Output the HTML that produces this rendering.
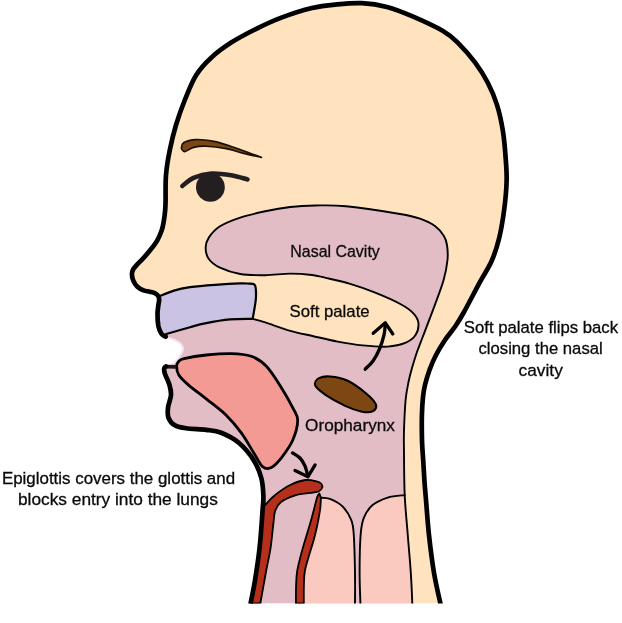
<!DOCTYPE html>
<html><head><meta charset="utf-8"><title>Swallowing diagram</title>
<style>html,body{margin:0;padding:0;background:#fff}svg{display:block}</style></head>
<body><svg width="622" height="623" viewBox="0 0 622 623">
<defs>
<clipPath id="c"><rect x="0" y="0" width="622" height="603.5"/></clipPath>
<filter id="b" x="-50%" y="-50%" width="200%" height="200%"><feGaussianBlur stdDeviation="0.7"/></filter>
</defs>
<rect width="622" height="623" fill="#fff"/>
<g clip-path="url(#c)" stroke-linecap="round" stroke-linejoin="round">
<path d="M250.6 603.5C251.3 599.6 253.5 589.7 255.0 580.4C256.5 571.1 258.3 559.5 259.6 547.8C260.9 536.1 262.0 518.6 262.6 510.0C263.2 501.4 263.6 501.3 263.4 496.0C263.2 490.7 262.9 483.9 261.3 478.0C259.7 472.1 257.6 466.3 253.8 460.4C250.1 454.5 244.2 447.4 238.8 442.8C233.4 438.2 226.6 435.0 221.2 432.8C215.8 430.6 212.0 430.6 206.2 429.8C200.3 429.1 191.3 429.1 186.1 428.3C180.9 427.6 177.7 427.1 174.8 425.3C171.9 423.6 169.6 420.7 168.5 417.8C167.4 414.9 167.6 411.5 168.0 407.7C168.4 403.9 170.8 398.8 171.0 395.0C171.2 391.2 170.5 388.5 169.5 385.0C168.5 381.5 165.9 376.8 165.0 374.0C164.1 371.2 164.0 369.8 164.2 368.5C164.4 367.2 165.7 366.8 166.0 366.4L166.0 366.4C167.2 365.9 171.1 365.2 173.4 363.5C175.7 361.8 178.2 358.9 179.8 356.3C181.4 353.8 183.3 350.6 183.0 348.2C182.7 345.8 181.1 343.7 178.2 341.8C175.3 339.9 167.8 337.6 165.7 336.7L165.7 336.7C165.0 336.2 162.6 335.6 161.4 333.8C160.2 332.0 159.0 329.0 158.3 325.7C157.7 322.4 157.5 317.4 157.5 314.0C157.5 310.6 158.1 307.3 158.4 305.0C158.7 302.7 159.1 300.8 159.2 300.0L159.2 300.0C159.1 299.4 159.1 297.4 158.4 296.3C157.7 295.2 156.4 294.1 155.0 293.3C153.6 292.5 151.7 292.2 149.8 291.7C147.9 291.2 145.7 291.2 143.6 290.4C141.5 289.6 139.1 288.4 137.4 286.8C135.7 285.2 134.2 282.7 133.3 280.6C132.4 278.5 131.9 275.9 131.9 274.0C131.9 272.1 132.5 270.8 133.2 269.4C133.9 268.0 134.5 267.5 136.2 265.6C137.9 263.7 141.1 260.6 143.6 257.9C146.1 255.2 148.6 252.2 150.9 249.3C153.2 246.4 155.5 243.5 157.3 240.3C159.1 237.1 160.7 233.2 161.8 230.0C162.9 226.8 163.2 224.3 163.8 221.0C164.4 217.7 164.9 213.4 165.2 210.0C165.5 206.6 165.5 206.1 165.6 200.3C165.7 194.5 165.3 183.4 166.0 175.0C166.7 166.6 168.1 158.3 169.8 150.0C171.5 141.7 173.5 133.3 176.0 125.0C178.5 116.7 181.5 108.3 184.8 100.0C188.2 91.7 191.7 82.2 196.1 75.2C200.5 68.2 205.3 63.1 211.2 57.7C217.0 52.3 223.7 47.4 231.2 42.6C238.7 37.8 247.9 33.0 256.3 28.8C264.7 24.6 272.1 21.1 281.4 17.6C290.7 14.1 302.7 10.2 312.0 8.0C321.3 5.8 328.7 5.2 337.0 4.4C345.3 3.6 353.7 2.8 362.0 3.2C370.3 3.6 378.7 4.8 387.0 7.0C395.3 9.2 402.7 12.2 412.0 16.2C421.3 20.2 435.0 26.4 442.6 30.8C450.2 35.2 452.3 37.3 457.7 42.6C463.1 47.9 470.2 56.0 475.2 62.7C480.2 69.4 484.2 75.8 487.8 82.8C491.4 89.8 494.4 96.7 496.9 104.6C499.4 112.5 501.4 121.8 502.8 130.4C504.2 139.0 504.9 147.6 505.5 156.0C506.1 164.4 506.9 171.8 506.6 181.0C506.4 190.2 505.3 201.4 504.0 211.0C502.7 220.6 501.1 230.4 499.0 238.8C496.9 247.2 494.6 254.2 491.5 261.3C488.4 268.4 484.9 272.9 480.3 281.4C475.7 289.8 468.1 304.6 464.0 312.0C459.9 319.4 458.7 321.3 455.5 326.0C452.3 330.7 448.2 335.2 445.0 340.0C441.8 344.8 438.6 350.0 436.0 355.0C433.4 360.0 431.3 365.0 429.5 370.0C427.7 375.0 426.1 380.5 425.0 385.0C423.9 389.5 423.5 392.0 423.0 397.0C422.5 402.0 422.1 407.8 421.9 415.0C421.7 422.2 421.8 432.2 422.0 440.0C422.2 447.8 422.9 455.0 423.3 462.0C423.7 469.0 424.1 476.1 424.5 482.0C424.9 487.9 425.1 488.7 425.8 497.6C426.6 506.5 427.6 522.7 429.0 535.2C430.4 547.8 432.1 561.5 434.0 572.9C435.9 584.3 439.3 598.4 440.4 603.5Z" fill="#ffe3bf"/>
<path d="M412.3 603.5C412.1 598.4 411.6 584.3 410.8 572.9C410.1 561.5 408.8 548.2 407.8 535.2C406.8 522.2 405.3 508.8 404.7 495.1C404.1 481.4 404.1 463.9 404.0 453.0C403.9 442.1 403.7 438.8 404.0 430.0C404.3 421.2 404.9 408.0 405.6 400.0C406.4 392.0 407.4 387.3 408.5 382.0C409.6 376.7 410.6 372.9 412.0 368.0C413.4 363.1 415.1 357.6 416.8 352.5C418.6 347.4 419.5 345.3 422.5 337.5C425.5 329.7 431.1 315.3 434.6 305.7C438.1 296.1 441.5 287.6 443.6 280.0C445.8 272.4 446.9 265.8 447.5 260.0C448.1 254.2 447.6 249.0 447.0 245.0C446.4 241.0 445.9 239.2 443.9 236.0C441.9 232.8 439.0 228.9 435.0 226.0C431.0 223.1 425.8 220.7 420.0 218.7C414.2 216.7 412.3 216.1 400.0 214.0C387.7 211.9 360.1 207.7 346.0 206.3C331.9 204.9 324.7 205.4 315.4 205.5C306.1 205.6 298.7 206.0 290.3 207.0C281.9 208.0 273.6 209.5 265.2 211.3C256.8 213.1 247.7 215.1 240.2 217.6C232.7 220.1 225.2 223.0 220.0 226.3C214.8 229.6 211.2 234.0 208.8 237.6C206.4 241.2 205.6 244.1 205.6 247.7C205.6 251.3 206.4 255.7 208.8 259.0C211.2 262.3 214.8 265.2 220.0 267.7C225.2 270.2 232.7 272.8 240.2 274.0C247.7 275.2 256.8 275.3 265.2 275.2C273.6 275.1 282.5 273.6 290.3 273.6C298.1 273.6 306.2 274.3 312.0 275.0C317.8 275.7 318.6 276.2 325.0 277.7C331.4 279.2 341.8 281.4 350.2 283.9C358.6 286.4 366.8 289.3 375.2 292.7C383.6 296.1 394.0 300.6 400.3 304.0C406.6 307.4 409.9 309.7 412.9 312.8C415.9 315.9 418.0 319.1 418.4 322.8C418.8 326.6 417.6 332.0 415.4 335.3C413.2 338.6 409.9 341.0 405.3 342.9C400.7 344.8 394.9 346.2 387.8 346.6C380.7 347.0 371.1 346.2 362.7 345.4C354.3 344.6 346.0 343.2 337.6 341.6C329.2 340.0 320.4 337.8 312.5 336.0C304.6 334.2 298.2 333.1 290.3 330.8C282.4 328.5 271.5 324.4 265.2 322.4C258.9 320.4 254.8 319.4 252.7 318.8L252.7 318.8C248.9 318.9 237.9 318.6 230.0 319.4C222.1 320.1 211.7 322.0 205.0 323.3C198.3 324.6 196.5 325.4 190.0 327.2C183.5 329.0 170.2 332.9 166.2 334.0L165.7 336.7C167.8 337.6 175.3 339.9 178.2 341.8C181.1 343.7 182.7 345.8 183.0 348.2C183.3 350.6 181.4 353.8 179.8 356.3C178.2 358.9 175.7 361.8 173.4 363.5C171.1 365.2 167.2 365.9 166.0 366.4L166.0 366.4C165.7 366.8 164.4 367.2 164.2 368.5C164.0 369.8 164.1 371.2 165.0 374.0C165.9 376.8 168.5 381.5 169.5 385.0C170.5 388.5 171.2 391.2 171.0 395.0C170.8 398.8 168.4 403.9 168.0 407.7C167.6 411.5 167.4 414.9 168.5 417.8C169.6 420.7 171.9 423.6 174.8 425.3C177.7 427.1 180.9 427.6 186.1 428.3C191.3 429.1 200.3 429.1 206.2 429.8C212.0 430.6 215.8 430.6 221.2 432.8C226.6 435.0 233.4 438.2 238.8 442.8C244.2 447.4 250.1 454.5 253.8 460.4C257.6 466.3 259.7 472.1 261.3 478.0C262.9 483.9 263.2 490.7 263.4 496.0C263.6 501.3 263.2 501.4 262.6 510.0C262.0 518.6 260.9 536.1 259.6 547.8C258.3 559.5 256.5 571.1 255.0 580.4C253.5 589.7 251.3 599.6 250.6 603.5Z" fill="#e3bdc6"/>
<path d="M165.7 336.7C167.8 337.6 175.3 339.9 178.2 341.8C181.1 343.7 182.7 345.8 183.0 348.2C183.3 350.6 181.4 353.8 179.8 356.3C178.2 358.9 175.7 361.8 173.4 363.5C171.1 365.2 167.2 365.9 166.0 366.4" fill="none" stroke="#f1e4f2" stroke-width="2" filter="url(#b)"/>
<path d="M158.0 296.8C160.7 295.8 168.7 292.2 174.0 290.6C179.3 289.0 183.2 288.2 190.0 287.2C196.8 286.2 206.6 285.4 215.0 284.8C223.4 284.2 234.5 283.6 240.2 283.4C245.9 283.2 247.5 283.6 249.0 283.6L249.0 283.6C249.9 283.8 253.3 283.5 254.5 284.6C255.7 285.7 255.7 287.4 255.9 290.0C256.1 292.6 256.2 295.5 255.7 300.3C255.2 305.1 253.2 315.7 252.7 318.8L252.7 318.8C248.9 318.9 237.9 318.6 230.0 319.4C222.1 320.1 211.7 322.0 205.0 323.3C198.3 324.6 196.5 325.4 190.0 327.2C183.5 329.0 170.2 332.9 166.2 334.0L161.4 333.8C160.9 332.4 159.0 329.0 158.3 325.7C157.7 322.4 157.5 317.4 157.5 314.0C157.5 310.6 158.1 307.3 158.4 305.0C158.7 302.7 159.1 300.8 159.2 300.0Z" fill="#cbc3e3"/>
<path d="M320.3 497.6C321.9 497.8 326.3 497.4 330.0 498.9C333.7 500.4 338.9 502.8 342.5 506.4C346.1 509.9 349.4 515.4 351.3 520.2C353.2 525.0 353.2 526.4 353.8 535.2C354.4 544.0 354.8 561.5 355.0 572.9C355.2 584.3 355.0 598.4 355.0 603.5L300.0 603.5L318.0 500.0Z" fill="#fac9c0"/>
<path d="M404.7 495.1C401.9 495.5 393.0 495.9 387.7 497.6C382.4 499.3 376.6 501.8 372.6 505.1C368.6 508.5 365.9 512.7 363.9 517.7C361.9 522.7 361.3 526.0 360.6 535.2C359.9 544.4 359.6 561.5 359.6 572.9C359.6 584.3 360.3 598.4 360.4 603.5L412.3 603.5L412.3 603.5C412.1 598.4 411.6 584.3 410.8 572.9C410.1 561.5 408.8 548.2 407.8 535.2C406.8 522.2 405.2 501.8 404.7 495.1Z" fill="#fac9c0"/>
<path d="M320.3 497.6C321.9 497.8 326.3 497.4 330.0 498.9C333.7 500.4 338.9 502.8 342.5 506.4C346.1 509.9 349.4 515.4 351.3 520.2C353.2 525.0 353.2 526.4 353.8 535.2C354.4 544.0 354.8 561.5 355.0 572.9C355.2 584.3 355.0 598.4 355.0 603.5" fill="none" stroke="#000" stroke-width="1.9"/>
<path d="M404.7 495.1C401.9 495.5 393.0 495.9 387.7 497.6C382.4 499.3 376.6 501.8 372.6 505.1C368.6 508.5 365.9 512.7 363.9 517.7C361.9 522.7 361.3 526.0 360.6 535.2C359.9 544.4 359.6 561.5 359.6 572.9C359.6 584.3 360.3 598.4 360.4 603.5" fill="none" stroke="#000" stroke-width="1.9"/>
<path d="M412.3 603.5C412.1 598.4 411.6 584.3 410.8 572.9C410.1 561.5 408.8 548.2 407.8 535.2C406.8 522.2 405.3 508.8 404.7 495.1C404.1 481.4 404.1 463.9 404.0 453.0C403.9 442.1 403.7 438.8 404.0 430.0C404.3 421.2 404.9 408.0 405.6 400.0C406.4 392.0 407.4 387.3 408.5 382.0C409.6 376.7 410.6 372.9 412.0 368.0C413.4 363.1 415.1 357.6 416.8 352.5C418.6 347.4 419.5 345.3 422.5 337.5C425.5 329.7 431.1 315.3 434.6 305.7C438.1 296.1 441.5 287.6 443.6 280.0C445.8 272.4 446.9 265.8 447.5 260.0C448.1 254.2 447.6 249.0 447.0 245.0C446.4 241.0 445.9 239.2 443.9 236.0C441.9 232.8 439.0 228.9 435.0 226.0C431.0 223.1 425.8 220.7 420.0 218.7C414.2 216.7 412.3 216.1 400.0 214.0C387.7 211.9 360.1 207.7 346.0 206.3C331.9 204.9 324.7 205.4 315.4 205.5C306.1 205.6 298.7 206.0 290.3 207.0C281.9 208.0 273.6 209.5 265.2 211.3C256.8 213.1 247.7 215.1 240.2 217.6C232.7 220.1 225.2 223.0 220.0 226.3C214.8 229.6 211.2 234.0 208.8 237.6C206.4 241.2 205.6 244.1 205.6 247.7C205.6 251.3 206.4 255.7 208.8 259.0C211.2 262.3 214.8 265.2 220.0 267.7C225.2 270.2 232.7 272.8 240.2 274.0C247.7 275.2 256.8 275.3 265.2 275.2C273.6 275.1 282.5 273.6 290.3 273.6C298.1 273.6 306.2 274.3 312.0 275.0C317.8 275.7 318.6 276.2 325.0 277.7C331.4 279.2 341.8 281.4 350.2 283.9C358.6 286.4 366.8 289.3 375.2 292.7C383.6 296.1 394.0 300.6 400.3 304.0C406.6 307.4 409.9 309.7 412.9 312.8C415.9 315.9 418.0 319.1 418.4 322.8C418.8 326.6 417.6 332.0 415.4 335.3C413.2 338.6 409.9 341.0 405.3 342.9C400.7 344.8 394.9 346.2 387.8 346.6C380.7 347.0 371.1 346.2 362.7 345.4C354.3 344.6 346.0 343.2 337.6 341.6C329.2 340.0 320.4 337.8 312.5 336.0C304.6 334.2 298.2 333.1 290.3 330.8C282.4 328.5 271.5 324.4 265.2 322.4C258.9 320.4 254.8 319.4 252.7 318.8" fill="none" stroke="#000" stroke-width="1.9"/>
<path d="M158.0 296.8C160.7 295.8 168.7 292.2 174.0 290.6C179.3 289.0 183.2 288.2 190.0 287.2C196.8 286.2 206.6 285.4 215.0 284.8C223.4 284.2 234.5 283.6 240.2 283.4C245.9 283.2 247.5 283.6 249.0 283.6L249.0 283.6C249.9 283.8 253.3 283.5 254.5 284.6C255.7 285.7 255.7 287.4 255.9 290.0C256.1 292.6 256.2 295.5 255.7 300.3C255.2 305.1 253.2 315.7 252.7 318.8L252.7 318.8C248.9 318.9 237.9 318.6 230.0 319.4C222.1 320.1 211.7 322.0 205.0 323.3C198.3 324.6 196.5 325.4 190.0 327.2C183.5 329.0 170.2 332.9 166.2 334.0" fill="none" stroke="#000" stroke-width="2.2"/>
<path d="M260.3 603.5C261.2 598.6 263.9 583.3 265.6 574.0C267.3 564.7 269.3 556.3 270.6 547.8C271.9 539.2 272.7 528.8 273.5 522.7C274.3 516.6 273.9 514.5 275.2 511.0C276.4 507.6 277.7 504.6 281.0 502.0C284.3 499.4 289.9 496.9 295.2 495.3C300.5 493.7 308.9 493.2 312.8 492.6C316.7 492.0 316.9 492.3 318.5 491.5C320.1 490.7 321.9 488.9 322.3 487.6C322.7 486.3 322.0 484.6 321.0 483.5C320.0 482.4 319.1 481.9 316.5 481.3C313.9 480.7 309.6 479.4 305.2 480.0C300.8 480.6 295.2 482.5 290.2 485.0C285.2 487.5 279.3 491.7 275.1 495.0C270.9 498.3 266.8 503.3 265.1 505.0L263.4 498.0C263.3 500.0 263.2 501.7 262.6 510.0C262.0 518.3 260.9 536.1 259.6 547.8C258.3 559.5 256.5 571.1 255.0 580.4C253.5 589.7 251.3 599.6 250.6 603.5Z" fill="#b52f1b" stroke="#000" stroke-width="1.8"/>
<path d="M319.4 493.5C319.0 494.1 318.1 494.2 317.2 497.0C316.3 499.8 315.1 505.3 313.8 510.0C312.6 514.7 311.1 520.3 309.7 525.0C308.3 529.7 307.2 533.2 305.7 538.2C304.2 543.2 302.3 549.5 300.9 555.0C299.5 560.5 298.0 565.9 297.2 570.9C296.4 575.9 296.3 579.6 296.1 585.0C295.9 590.4 295.9 600.4 295.9 603.5L303.8 603.5C303.8 600.4 303.7 590.4 303.9 585.0C304.1 579.6 304.0 575.9 304.9 570.9C305.8 565.9 307.6 560.5 309.2 555.0C310.8 549.5 312.8 543.6 314.2 538.2C315.6 532.8 316.8 527.7 317.8 522.7C318.8 517.7 319.8 512.1 320.3 508.0C320.8 503.9 320.8 499.7 320.9 498.0Z" fill="#b52f1b" stroke="#000" stroke-width="1.8"/>
<path d="M176.6 366.0C176.6 363.8 177.4 362.7 178.6 361.5C179.8 360.3 179.4 359.7 184.0 358.6C188.6 357.5 198.3 355.8 206.2 355.0C214.1 354.2 223.7 353.4 231.2 353.6C238.7 353.8 245.4 354.2 251.3 356.3C257.2 358.4 261.4 361.1 266.4 366.3C271.4 371.5 277.0 380.8 281.4 387.7C285.8 394.6 290.0 402.3 292.7 407.7C295.4 413.1 297.7 414.9 297.7 420.3C297.7 425.7 295.4 434.0 292.7 440.3C290.0 446.6 284.9 453.3 281.4 457.9C277.8 462.4 274.5 466.1 271.4 467.6C268.3 469.1 265.5 469.1 262.6 466.7C259.7 464.2 257.4 458.5 253.8 452.9C250.2 447.2 245.9 439.1 241.3 432.8C236.7 426.5 232.0 420.9 226.2 415.2C220.3 409.5 212.5 403.9 206.2 398.9C199.9 393.9 193.2 389.1 188.6 385.1C184.0 381.1 180.8 378.2 178.8 375.0C176.8 371.8 176.6 368.2 176.6 366.0Z" fill="#f49a95" stroke="#000" stroke-width="2.8"/>
<path d="M315.1 384.5C314.1 381.8 316.5 378.9 319.0 377.5C321.5 376.1 325.4 375.4 330.2 375.8C335.0 376.2 341.8 377.3 347.7 380.0C353.6 382.7 360.6 388.1 365.3 392.0C370.0 395.9 374.5 400.4 375.8 403.5C377.1 406.6 375.3 409.2 373.0 410.5C370.7 411.8 366.6 411.9 362.0 411.0C357.4 410.1 351.3 408.1 345.2 405.2C339.1 402.3 330.1 397.3 325.1 393.9C320.1 390.4 316.1 387.2 315.1 384.5Z" fill="#7d4714" stroke="#000" stroke-width="2.1" transform="translate(0,0.7)"/>
<path d="M176 366.8L166 366.6" fill="none" stroke="#1a1516" stroke-width="3.8" stroke-linecap="butt"/>
<path d="M250.6 603.5C251.3 599.6 253.5 589.7 255.0 580.4C256.5 571.1 258.3 559.5 259.6 547.8C260.9 536.1 262.0 518.6 262.6 510.0C263.2 501.4 263.6 501.3 263.4 496.0C263.2 490.7 262.9 483.9 261.3 478.0C259.7 472.1 257.6 466.3 253.8 460.4C250.1 454.5 244.2 447.4 238.8 442.8C233.4 438.2 226.6 435.0 221.2 432.8C215.8 430.6 212.0 430.6 206.2 429.8C200.3 429.1 191.3 429.1 186.1 428.3C180.9 427.6 177.7 427.1 174.8 425.3C171.9 423.6 169.6 420.7 168.5 417.8C167.4 414.9 167.6 411.5 168.0 407.7C168.4 403.9 170.8 398.8 171.0 395.0C171.2 391.2 170.5 388.5 169.5 385.0C168.5 381.5 165.9 376.8 165.0 374.0C164.1 371.2 164.0 369.8 164.2 368.5C164.4 367.2 165.7 366.8 166.0 366.4" fill="none" stroke="#000" stroke-width="4.7"/>
<path d="M165.7 336.7C165.0 336.2 162.6 335.6 161.4 333.8C160.2 332.0 159.0 329.0 158.3 325.7C157.7 322.4 157.5 317.4 157.5 314.0C157.5 310.6 158.1 307.3 158.4 305.0C158.7 302.7 159.1 300.8 159.2 300.0L159.2 300.0C159.1 299.4 159.1 297.4 158.4 296.3C157.7 295.2 156.4 294.1 155.0 293.3C153.6 292.5 151.7 292.2 149.8 291.7C147.9 291.2 145.7 291.2 143.6 290.4C141.5 289.6 139.1 288.4 137.4 286.8C135.7 285.2 134.2 282.7 133.3 280.6C132.4 278.5 131.9 275.9 131.9 274.0C131.9 272.1 132.5 270.8 133.2 269.4C133.9 268.0 134.5 267.5 136.2 265.6C137.9 263.7 141.1 260.6 143.6 257.9C146.1 255.2 148.6 252.2 150.9 249.3C153.2 246.4 155.5 243.5 157.3 240.3C159.1 237.1 160.7 233.2 161.8 230.0C162.9 226.8 163.2 224.3 163.8 221.0C164.4 217.7 164.9 213.4 165.2 210.0C165.5 206.6 165.5 206.1 165.6 200.3C165.7 194.5 165.3 183.4 166.0 175.0C166.7 166.6 168.1 158.3 169.8 150.0C171.5 141.7 173.5 133.3 176.0 125.0C178.5 116.7 181.5 108.3 184.8 100.0C188.2 91.7 191.7 82.2 196.1 75.2C200.5 68.2 205.3 63.1 211.2 57.7C217.0 52.3 223.7 47.4 231.2 42.6C238.7 37.8 247.9 33.0 256.3 28.8C264.7 24.6 272.1 21.1 281.4 17.6C290.7 14.1 302.7 10.2 312.0 8.0C321.3 5.8 328.7 5.2 337.0 4.4C345.3 3.6 353.7 2.8 362.0 3.2C370.3 3.6 378.7 4.8 387.0 7.0C395.3 9.2 402.7 12.2 412.0 16.2C421.3 20.2 435.0 26.4 442.6 30.8C450.2 35.2 452.3 37.3 457.7 42.6C463.1 47.9 470.2 56.0 475.2 62.7C480.2 69.4 484.2 75.8 487.8 82.8C491.4 89.8 494.4 96.7 496.9 104.6C499.4 112.5 501.4 121.8 502.8 130.4C504.2 139.0 504.9 147.6 505.5 156.0C506.1 164.4 506.9 171.8 506.6 181.0C506.4 190.2 505.3 201.4 504.0 211.0C502.7 220.6 501.1 230.4 499.0 238.8C496.9 247.2 494.6 254.2 491.5 261.3C488.4 268.4 484.9 272.9 480.3 281.4C475.7 289.8 468.1 304.6 464.0 312.0C459.9 319.4 458.7 321.3 455.5 326.0C452.3 330.7 448.2 335.2 445.0 340.0C441.8 344.8 438.6 350.0 436.0 355.0C433.4 360.0 431.3 365.0 429.5 370.0C427.7 375.0 426.1 380.5 425.0 385.0C423.9 389.5 423.5 392.0 423.0 397.0C422.5 402.0 422.1 407.8 421.9 415.0C421.7 422.2 421.8 432.2 422.0 440.0C422.2 447.8 422.9 455.0 423.3 462.0C423.7 469.0 424.1 476.1 424.5 482.0C424.9 487.9 425.1 488.7 425.8 497.6C426.6 506.5 427.6 522.7 429.0 535.2C430.4 547.8 432.1 561.5 434.0 572.9C435.9 584.3 439.3 598.4 440.4 603.5" fill="none" stroke="#000" stroke-width="4.7"/>
<path d="M181.3 148.5C181.7 147.6 181.2 144.3 183.6 142.8C186.0 141.3 191.0 139.8 196.0 139.6C201.0 139.4 207.8 140.3 213.7 141.4C219.6 142.5 225.3 144.5 231.2 146.4C237.0 148.3 243.8 150.9 248.8 152.7C253.9 154.5 259.4 156.6 261.5 157.4L261.5 157.4C258.6 156.7 249.7 154.9 243.8 153.4C237.9 151.9 232.5 149.8 226.2 148.6C219.9 147.4 211.6 146.4 206.2 146.2C200.8 146.0 197.2 146.5 193.6 147.4C190.0 148.3 186.9 151.4 184.8 151.6C182.8 151.8 181.9 149.0 181.3 148.5Z" fill="#7d4714" stroke="#1a0f05" stroke-width="1.6"/>
<circle cx="210.4" cy="187.3" r="14.4" fill="#231f20"/>
<path d="M182.3 186.0C184.2 184.6 188.8 179.9 193.6 177.8C198.4 175.7 204.9 173.9 211.2 173.5C217.5 173.1 225.1 174.2 231.2 175.2C237.2 176.2 244.8 178.8 247.5 179.5" fill="none" stroke="#231f20" stroke-width="4.6"/>
<path d="M365.2 369.2C366.5 367.8 370.6 364.4 373.0 361.0C375.4 357.6 377.7 353.3 379.5 349.0C381.3 344.7 383.0 339.2 384.0 335.0C385.0 330.8 385.1 325.8 385.3 324.0" fill="none" stroke="#000" stroke-width="3.3"/>
<path d="M373.2 333.3L385.3 322.8L392.8 334" fill="none" stroke="#000" stroke-width="3.3"/>
<path d="M292.5 452.9C293.8 453.8 297.9 455.8 300.0 458.0C302.1 460.2 303.7 463.0 305.0 466.0C306.3 469.0 307.3 474.2 307.8 475.8" fill="none" stroke="#000" stroke-width="3.3"/>
<path d="M295 470.4L308 476.7L315.1 464.9" fill="none" stroke="#000" stroke-width="3.3"/>
</g>
<g opacity="0.999" font-family="'Liberation Sans', sans-serif" font-size="16.8" fill="#0a0a0a" stroke="#0a0a0a" stroke-width="0.3">
<text x="290.3" y="256.8" textLength="89.5" lengthAdjust="spacingAndGlyphs">Nasal Cavity</text>
<text x="289.6" y="316.9" textLength="80" lengthAdjust="spacingAndGlyphs">Soft palate</text>
<text x="305.1" y="430.7" textLength="89.8" lengthAdjust="spacingAndGlyphs">Oropharynx</text>
<text x="1.9" y="483.8" textLength="233.2" lengthAdjust="spacingAndGlyphs">Epiglottis covers the glottis and</text>
<text x="18" y="504.7" textLength="199.8" lengthAdjust="spacingAndGlyphs">blocks entry into the lungs</text>
<text x="463.8" y="333.0" textLength="154.3" lengthAdjust="spacingAndGlyphs">Soft palate flips back</text>
<text x="478.5" y="354.3" textLength="124.2" lengthAdjust="spacingAndGlyphs">closing the nasal</text>
<text x="518.6" y="375.6" textLength="44.2" lengthAdjust="spacingAndGlyphs">cavity</text>
</g>
</svg></body></html>
